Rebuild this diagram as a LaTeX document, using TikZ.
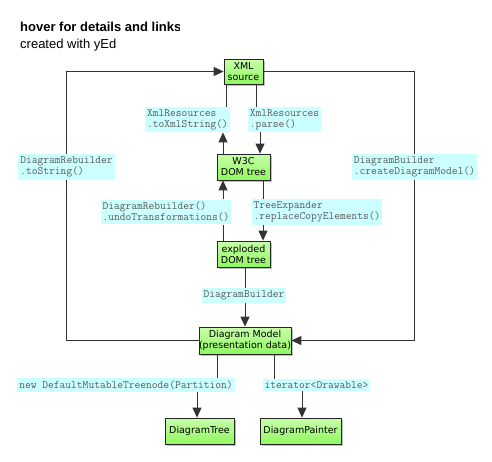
\documentclass[tikz,border=0pt]{standalone}
\usepackage{fontspec}
\setmainfont{DejaVu Sans}
\newfontfamily\titlefont{Liberation Sans}
\usetikzlibrary{arrows.meta,shadows}
\definecolor{lblfill}{HTML}{CCFFFF}
\definecolor{lbltext}{HTML}{5A5A5A}
\definecolor{edgecol}{HTML}{333333}
\definecolor{gtop}{HTML}{C8FFAA}
\definecolor{gbot}{HTML}{90F860}
\tikzset{
  gnode/.style={draw=black!85, line width=0.8pt, top color=gtop, bottom color=gbot,
    inner sep=0pt, align=center, font=\fontsize{9.5}{11}\selectfont,
    drop shadow={shadow xshift=2pt, shadow yshift=-2pt, opacity=0.25, fill=black}},
  elabel/.style={fill=lblfill, text=lbltext, inner xsep=2pt, inner ysep=2.5pt, align=left,
    font=\ttfamily\fontsize{11.2}{11}\selectfont},
  conn/.style={draw=edgecol, line width=0.9pt},
  arr/.style={conn, -{Triangle[length=10pt,width=9pt]}}
}
\begin{document}
\begin{tikzpicture}[x=1pt,y=-1pt]
\useasboundingbox[fill=white] (0,0) rectangle (492,461);
% title
\begin{scope}
\clip (0,0) rectangle (179.5,40);
\node[anchor=base west, inner sep=0pt, font=\titlefont\bfseries\fontsize{13}{15}\selectfont] (title) at (20,31.5) {hover for details and links};
\end{scope}
\node[anchor=base west, inner sep=0pt, font=\titlefont\fontsize{13}{15}\selectfont] (sub) at (20,48.5) {created with yEd};
% nodes
\node[gnode, minimum width=39pt, minimum height=25pt] (xml) at (243.5,71.5) {XML\\source};
\node[gnode, minimum width=53pt, minimum height=26pt] (w3c) at (243.5,167) {W3C\\DOM tree};
\node[gnode, minimum width=53pt, minimum height=26pt] (exp) at (243.5,254) {exploded\\DOM tree};
\node[gnode, minimum width=90pt, minimum height=27pt] (dm) at (245,340.5) {Diagram Model\\(presentation data)};
\node[gnode, minimum width=69pt, minimum height=26pt] (tree) at (199.5,431) {DiagramTree};
\node[gnode, minimum width=81pt, minimum height=26pt] (painter) at (300.5,431) {DiagramPainter};
% labels
\node[elabel] (lA) at (187.5,119.5) {XmlResources\\.toXmlString()};
\node[elabel] (lB) at (284.5,119.5) {XmlResources\\.parse()};
\node[elabel] (lH) at (66.5,167) {DiagramRebuilder\\.toString()};
\node[elabel] (lI) at (414.5,167) {DiagramBuilder\\.createDiagramModel()};
\node[elabel] (lC) at (166,212) {DiagramRebuilder()\\.undoTransformations()};
\node[elabel] (lD) at (317,212) {TreeExpander\\.replaceCopyElements()};
\node[elabel] (lE) at (244,295.5) {DiagramBuilder};
\node[elabel] (lF) at (126,385) {new DefaultMutableTreenode(Partition)};
\node[elabel] (lG) at (316.5,385) {iterator<Drawable>};
% edges
\draw[arr] ([xshift=-20.5pt]w3c.north) -- ([xshift=35.5pt]lA.south);
\draw[conn] ([xshift=38.5pt]lA.north) -- ([xshift=-17.5pt]xml.south);
\draw[conn] ([xshift=13.2pt]xml.south) -- ([xshift=-27.8pt]lB.north);
\draw[arr] ([xshift=-24.5pt]lB.south) -- ([xshift=16.5pt]w3c.north);
\draw[conn] ([xshift=19.5pt]w3c.south) -- ([xshift=-54pt]lD.north);
\draw[arr] ([xshift=-54pt]lD.south) -- ([xshift=19.5pt]exp.north);
\draw[conn] ([xshift=-20.5pt]exp.north) -- ([xshift=57pt]lC.south);
\draw[arr] ([xshift=57pt]lC.north) -- ([xshift=-20.5pt]w3c.south);
\draw[conn] ([xshift=1.5pt]exp.south) -- ([xshift=1pt]lE.north);
\draw[arr] ([xshift=1pt]lE.south) -- (dm.north);
\draw[conn] ([xshift=-28pt]dm.south) -- ([xshift=91pt]lF.north);
\draw[arr] ([xshift=71pt]lF.south) -- ([xshift=-2.5pt]tree.north);
\draw[conn] ([xshift=29pt]dm.south) -- ([xshift=-42.5pt]lG.north);
\draw[arr] ([xshift=-14.5pt]lG.south) -- ([xshift=1.5pt]painter.north);
\draw[conn] (dm.west) -| (lH.south);
\draw[arr] (lH.north) |- (xml.west);
\draw[conn] (xml.east) -| (lI.north);
\draw[arr] (lI.south) |- (dm.east);
\end{tikzpicture}
\end{document}
